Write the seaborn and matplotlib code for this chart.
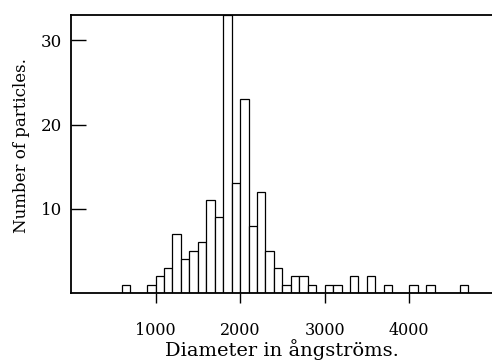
import numpy as np
import pandas as pd
import matplotlib
matplotlib.use("Agg")
import matplotlib.pyplot as plt
import seaborn as sns

# Particle counts per 100 Å diameter class (lower edge of each class)
bin_lower = [600, 700, 800, 900, 1000, 1100, 1200, 1300, 1400, 1500,
             1600, 1700, 1800, 1900, 2000, 2100, 2200, 2300, 2400, 2500,
             2600, 2700, 2800, 2900, 3000, 3100, 3200, 3300, 3400, 3500,
             3600, 3700, 3800, 3900, 4000, 4100, 4200, 4300, 4400, 4500,
             4600]
counts = [1, 0, 0, 1, 2, 3, 7, 4, 5, 6,
          11, 9, 33, 13, 23, 8, 12, 5, 3, 1,
          2, 2, 1, 0, 1, 1, 0, 2, 0, 2,
          0, 1, 0, 0, 1, 0, 1, 0, 0, 0,
          1]
bin_width = 100
x_ticks = [1000, 2000, 3000, 4000]
y_ticks = [10, 20, 30]

df = pd.DataFrame({"diameter": np.array(bin_lower) + bin_width / 2,
                   "count": counts})
edges = list(bin_lower) + [bin_lower[-1] + bin_width]

sns.set_theme(style="ticks")
plt.rcParams["font.family"] = ["DejaVu Serif"]

fig = plt.figure(figsize=(4.92, 3.64), dpi=100)
ax = fig.add_axes([0.1443, 0.195, 0.8557, 0.7638])

sns.histplot(data=df, x="diameter", weights="count", bins=edges,
             color="white", edgecolor="black", linewidth=0.9, alpha=1,
             ax=ax)

ax.set_xlim(0, 4980)
ax.set_ylim(0, 33)
ax.set_xticks(x_ticks)
ax.set_yticks(y_ticks)
ax.set_xticklabels([str(t) for t in x_ticks], fontsize=11.5)
ax.set_yticklabels([str(t) for t in y_ticks], fontsize=12)
ax.tick_params(axis="x", direction="out", length=7, width=1.0, pad=14,
               color="black", labelcolor="black")
ax.tick_params(axis="y", direction="in", length=11, width=1.0, pad=6.5,
               color="black", labelcolor="black")

for side in ["left", "top", "bottom"]:
    ax.spines[side].set_color("black")
    ax.spines[side].set_linewidth(1.3)
ax.spines["right"].set_visible(False)

ax.set_xlabel("Diameter in ångströms.", fontsize=14, labelpad=0,
              color="black")
ax.set_ylabel("Number of particles.", fontsize=12, color="black")
ax.yaxis.set_label_coords(-0.097, 0.532)

fig.savefig("out.png", dpi=100, facecolor="white")
